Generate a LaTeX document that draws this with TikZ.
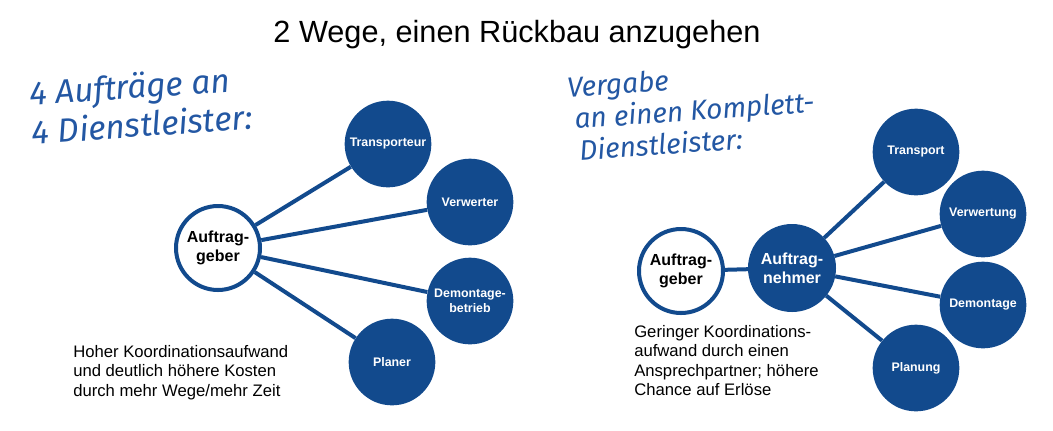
\documentclass[tikz,border=0pt]{standalone}
\usepackage{fontspec}
\setmainfont{Liberation Sans}
\newfontfamily\hand{Fira Sans}
\definecolor{dblue}{HTML}{124A8D}
\definecolor{hblue}{HTML}{2357A3}
\begin{document}
\begin{tikzpicture}[x=0.75pt,y=-0.75pt,
  sat/.style={circle,fill=dblue,minimum size=65pt,inner sep=0pt,text=white,font=\bfseries\fontsize{9.3}{11.5}\selectfont,align=center},
  hub/.style={circle,draw=dblue,line width=3pt,fill=white,minimum size=63pt,inner sep=0pt,font=\bfseries\fontsize{12}{14.5}\selectfont,align=center},
  hubf/.style={hub,fill=dblue,text=white},
  link/.style={draw=dblue,line width=3pt},
  note/.style={anchor=north west,align=left,font=\fontsize{12.5}{14.5}\selectfont,inner sep=0pt},
  handtxt/.style={anchor=north west,align=left,text=hblue,inner sep=0pt,rotate=4}]
\useasboundingbox (0,0) rectangle (1053,430);
\node[font=\fontsize{23}{27}\selectfont,anchor=base] (title) at (517,42) {2 Wege, einen Rückbau anzugehen};

% left
\node[hub] (ag1) at (218,248) {Auftrag-\\geber};
\node[sat] (tr) at (388,144) {Transporteur};
\node[sat] (vw) at (470,202) {Verwerter};
\node[sat] (db) at (470,301) {Demontage-\\betrieb};
\node[sat] (pl) at (392,362) {Planer};
\foreach \t in {tr,vw,db,pl} \draw[link] (ag1) -- (\t);

\node[handtxt,font=\hand\itshape\fontsize{25}{29}\selectfont] (h1) at (28,80) {4 Aufträge an\\4 Dienstleister:};

\node[note] (n1) at (73,345) {Hoher Koordinationsaufwand\\und deutlich höhere Kosten\\durch mehr Wege/mehr Zeit};

% right
\node[hub] (ag2) at (681,271) {Auftrag-\\geber};
\node[hubf] (an) at (792,268) {Auftrag-\\nehmer};
\node[sat] (t2) at (916,152) {Transport};
\node[sat] (v2) at (983,214) {Verwertung};
\node[sat] (d2) at (983,305) {Demontage};
\node[sat] (p2) at (916,368) {Planung};
\draw[link] (ag2) -- (an);
\foreach \t in {t2,v2,d2,p2} \draw[link] (an) -- (\t);

\node[handtxt,font=\hand\itshape\fontsize{21}{24}\selectfont] (h3) at (566,76) {Vergabe\\\hspace*{4pt}an einen Komplett-\\\hspace*{6pt}Dienstleister:};

\node[note] (n2) at (634,325) {Geringer Koordinations-\\aufwand durch einen\\Ansprechpartner; höhere\\Chance auf Erlöse};
\end{tikzpicture}
\end{document}
